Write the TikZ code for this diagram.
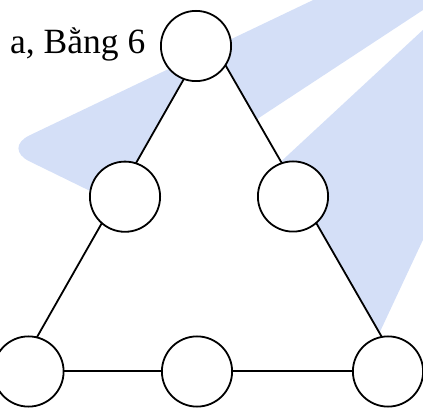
\documentclass[tikz,border=0pt]{standalone}
\usepackage{fontspec}
\setmainfont{Liberation Serif}
\definecolor{wmblue}{RGB}{212,223,247}
\begin{document}
\begin{tikzpicture}[x=1pt,y=-1pt,
  ball/.style={circle,draw=black,fill=white,line width=1.8pt,minimum size=70.2pt,inner sep=0pt},
  edge/.style={draw=black,fill=white,line width=1.8pt,line join=round},
  caption/.style={anchor=base west,inner sep=0pt,font=\fontsize{35.5}{40}\selectfont}]
\useasboundingbox (0,0) rectangle (423,411);

% background logo: two light-blue wings
\begin{scope}
  \clip (0,0) rectangle (423,411);
  \fill[wmblue,rounded corners=30pt]
    (460,-14.3) -- (245,127) -- (130,210.5) -- (2.6,148.2) -- (397,-40) -- (460,-40) -- cycle;
  \fill[wmblue]
    (260,181) -- (460,-4.4) -- (460,160.7) -- (378,336) -- cycle;
\end{scope}

% triangle frame
\coordinate (apex) at (208.5,35.7);
\coordinate (left) at (17.7,371);
\coordinate (right) at (401.4,371);
\path[edge] (apex) -- (left) -- (right) -- cycle;

% circles
\node[ball] (t)  at (196,46) {};
\node[ball] (ml) at (125,196.7) {};
\node[ball] (mr) at (293,196.5) {};
\node[ball] (bl) at (28.5,371.5) {};
\node[ball] (bm) at (197,371.5) {};
\node[ball] (br) at (388,371.5) {};

% caption
\node[caption] (cap) at (10,53.3) {a, Bằng 6};
\end{tikzpicture}
\end{document}
